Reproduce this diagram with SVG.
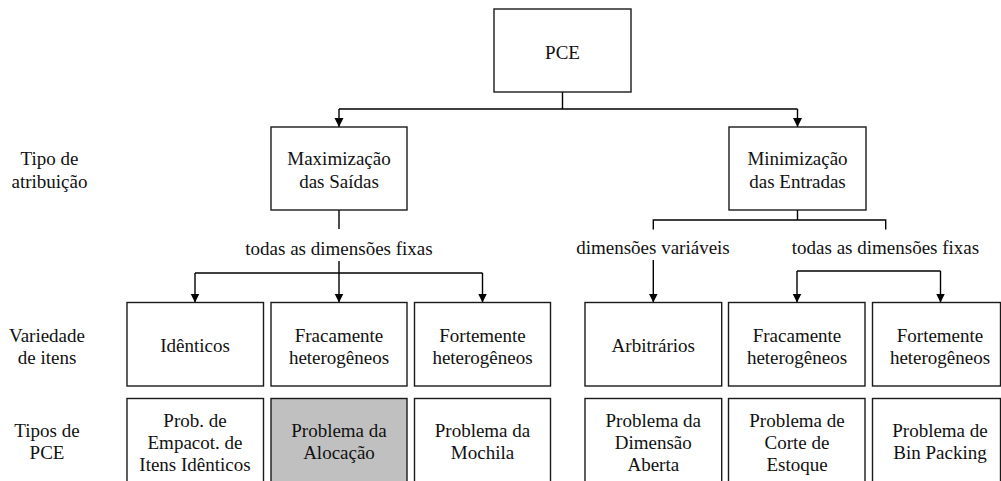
<svg xmlns="http://www.w3.org/2000/svg" width="1001" height="481" viewBox="0 0 1001 481">
<style>
.box{fill:#fff;stroke:#1a1a1a;stroke-width:1.4}
.hl{fill:#c0c0c0}
.ln{fill:none;stroke:#000;stroke-width:1.4}
.ar{marker-end:url(#ah)}
.t text{font-family:'Liberation Serif','Times New Roman','DejaVu Serif',serif;font-size:19px;fill:#111;text-anchor:middle}
</style>
<defs>
<marker id="ah" viewBox="0 0 10 10" refX="10" refY="5" markerWidth="9" markerHeight="10" markerUnits="userSpaceOnUse" orient="auto">
<path d="M0,0 L10,5 L0,10 z" fill="#000"/>
</marker>
</defs>
<rect width="1001" height="481" fill="#fff"/>
<g id="connectors">
<path class="ln" d="M562.5,92 V109 M339,109 H797.5"/>
<path class="ln ar" d="M339,109 V127"/>
<path class="ln ar" d="M797.5,109 V127"/>
<path class="ln" d="M339,210 V229"/>
<path class="ln" d="M339,261 V273 M195,273 H482.5"/>
<path class="ln ar" d="M195,273 V302.5"/>
<path class="ln ar" d="M339,273 V302.5"/>
<path class="ln ar" d="M482.5,273 V302.5"/>
<path class="ln" d="M797.5,210 V220 M653.3,229.5 V220 H885.7 V229.5"/>
<path class="ln ar" d="M653.3,260 V302.5"/>
<path class="ln" d="M797,271 H940.5"/>
<path class="ln ar" d="M797,271 V302.5"/>
<path class="ln ar" d="M940.5,271 V302.5"/>
</g>
<g class="t" font-family="Liberation Serif, Times New Roman, serif" font-size="19" text-anchor="middle">
<g id="label-tipo-atribuicao"><text x="49.5" y="165">Tipo de</text><text x="49.5" y="187.5">atribuição</text></g>
<g id="label-variedade"><text x="47" y="341.5">Variedade</text><text x="47" y="363.5">de itens</text></g>
<g id="label-tipos-pce"><text x="47" y="437">Tipos de</text><text x="47" y="459">PCE</text></g>
<g id="edge-label-max"><text x="339" y="255">todas as dimensões fixas</text></g>
<g id="edge-label-var"><text x="653" y="254">dimensões variáveis</text></g>
<g id="edge-label-min-fixas"><text x="885.5" y="254">todas as dimensões fixas</text></g>
<g id="pce"><rect class="box" x="494" y="9" width="137" height="83"/><text x="562.5" y="59">PCE</text></g>
<g id="max"><rect class="box" x="271" y="127" width="136" height="83"/><text x="339" y="165">Maximização</text><text x="339" y="187.5">das Saídas</text></g>
<g id="min"><rect class="box" x="729" y="127" width="137" height="83"/><text x="797.5" y="165">Minimização</text><text x="797.5" y="187.5">das Entradas</text></g>
<g id="identicos"><rect class="box" x="127" y="302.5" width="136.5" height="83.5"/><text x="195" y="351.5">Idênticos</text></g>
<g id="fraca-l"><rect class="box" x="271" y="302.5" width="136" height="83.5"/><text x="339" y="341.5">Fracamente</text><text x="339" y="363.5">heterogêneos</text></g>
<g id="forte-l"><rect class="box" x="414.5" y="302.5" width="136" height="83.5"/><text x="482.5" y="341.5">Fortemente</text><text x="482.5" y="363.5">heterogêneos</text></g>
<g id="arbitrarios"><rect class="box" x="585" y="302.5" width="136.7" height="83.5"/><text x="653.3" y="351.5">Arbitrários</text></g>
<g id="fraca-r"><rect class="box" x="728.5" y="302.5" width="136.5" height="83.5"/><text x="797" y="341.5">Fracamente</text><text x="797" y="363.5">heterogêneos</text></g>
<g id="forte-r"><rect class="box" x="872.5" y="302.5" width="128" height="83.5"/><text x="940" y="341.5">Fortemente</text><text x="940" y="363.5">heterogêneos</text></g>
<g id="empacot"><rect class="box" x="127" y="398.5" width="136.5" height="100"/><text x="195" y="426.5">Prob. de</text><text x="195" y="448.5">Empacot. de</text><text x="195" y="470.5">Itens Idênticos</text></g>
<g id="alocacao"><rect class="box hl" x="271" y="398.5" width="136" height="100"/><text x="339" y="437">Problema da</text><text x="339" y="459">Alocação</text></g>
<g id="mochila"><rect class="box" x="414.5" y="398.5" width="136" height="100"/><text x="482.5" y="437">Problema da</text><text x="482.5" y="459">Mochila</text></g>
<g id="dimensao-aberta"><rect class="box" x="585" y="398.5" width="136.7" height="100"/><text x="653.3" y="426.5">Problema da</text><text x="653.3" y="448.5">Dimensão</text><text x="653.3" y="470.5">Aberta</text></g>
<g id="corte-estoque"><rect class="box" x="728.5" y="398.5" width="136.5" height="100"/><text x="797" y="426.5">Problema de</text><text x="797" y="448.5">Corte de</text><text x="797" y="470.5">Estoque</text></g>
<g id="bin-packing"><rect class="box" x="872.5" y="398.5" width="128" height="100"/><text x="940" y="437">Problema de</text><text x="940" y="459">Bin Packing</text></g>
</g>
</svg>
